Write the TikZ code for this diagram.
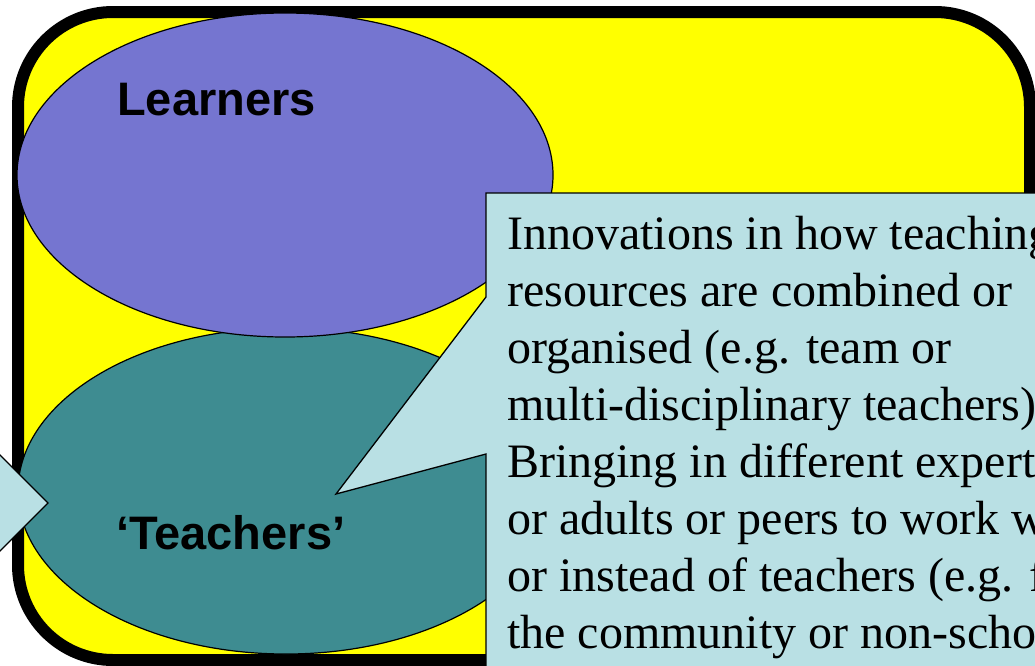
\documentclass[tikz,border=0pt]{standalone}
\usepackage{fontspec}
\setmainfont{Liberation Serif}
\newfontfamily\arialfont{Liberation Sans}
\usetikzlibrary{shapes.geometric}
\definecolor{bgyellow}{RGB}{255,255,0}
\definecolor{learnpurple}{RGB}{117,117,208}
\definecolor{teachteal}{RGB}{62,140,145}
\definecolor{calloutblue}{RGB}{185,224,228}
\tikzset{
  frame/.style={draw=black, line width=12pt, fill=bgyellow, rounded corners=95pt},
  blob/.style={ellipse, draw=black, line width=1.2pt, inner sep=0pt, minimum width=536pt},
  boldlabel/.style={font=\arialfont\bfseries\fontsize{47}{56}\selectfont, inner sep=0pt, anchor=base west},
  callshape/.style={draw=black, line width=1.3pt, fill=calloutblue, line join=miter},
  callline/.style={font=\fontsize{48}{57}\selectfont, inner sep=0pt, anchor=base west}
}
\begin{document}
\begin{tikzpicture}[x=1pt,y=-1pt]
\useasboundingbox (0,0) rectangle (1035,665);
\clip (0,0) rectangle (1035,665);
\draw[frame] (18,12) rectangle (1030,660);
\node[blob, fill=teachteal, minimum height=326pt] (teachers) at (286,491) {};
\node[blob, fill=learnpurple, minimum height=324pt] (learners) at (285,175) {};
\node[boldlabel] (learnerstext) at (117,115) {Learners};
\node[boldlabel] (teacherstext) at (116,549) {‘Teachers’};
\coordinate (tipright) at (336,494);
\coordinate (tipleft) at (48,503);
\draw[callshape] (486,193) -- (1045,193) -- (1045,675) -- (486,675) -- (486,454) -- (tipright) -- (486,297) -- cycle;
\draw[callshape] (-5,450) -- (tipleft) -- (-5,556) -- cycle;
\node[callline] (l1) at (507,249) {Innovations in how teaching};
\node[callline] (l2) at (507,306) {resources are combined or};
\node[callline] (l3) at (507,363) {organised (e.g. team or};
\node[callline] (l4) at (507,420) {multi-disciplinary teachers)};
\node[callline] (l5) at (507,477) {Bringing in different expert};
\node[callline] (l6) at (507,534) {or adults or peers to work w};
\node[callline] (l7) at (507,591) {or instead of teachers (e.g. f};
\node[callline] (l8) at (507,648) {the community or non-scho};
\end{tikzpicture}
\end{document}
